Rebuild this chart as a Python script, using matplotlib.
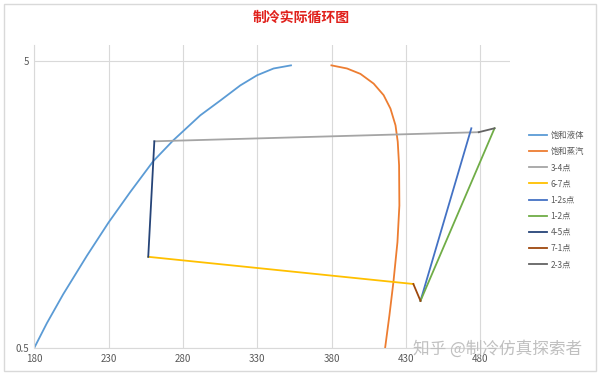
import numpy as np
import matplotlib
matplotlib.use('Agg')
from matplotlib import pyplot as plt
from matplotlib.patches import Rectangle

plt.rcParams['font.family'] = ['Noto Sans CJK SC', 'DejaVu Sans']

# 饱和液体 / 饱和蒸汽 (h, p)
liq_h = [180, 188.5, 199.5, 215.5, 230, 244.6, 260, 273.5, 291.7, 305.2, 318.6, 329.9, 341, 352.7]
liq_p = [0.5, 0.61, 0.77, 1.05, 1.37, 1.75, 2.24, 2.65, 3.24, 3.65, 4.12, 4.47, 4.72, 4.84]
vap_h = [379.9, 390.4, 399.4, 408.3, 415, 419.6, 423, 424.5, 425.4, 425.6, 424.3, 421.6, 418.9, 416, 415]
vap_p = [4.84, 4.72, 4.52, 4.18, 3.81, 3.42, 2.99, 2.62, 2.17, 1.57, 1.17, 0.85, 0.65, 0.5, 0.47]

# 循环状态点
h1, p1 = 439.8, 0.73
h2, p2 = 489.6, 2.92
h2s, p2s = 474, 2.92
h3, p3 = 479, 2.83
h4, p4 = 260.8, 2.63
h5, p5 = 256.7, 1.04
h7, p7 = 435, 0.836

series = [
    ('饱和液体', liq_h, liq_p, '#5B9BD5'),
    ('饱和蒸汽', vap_h, vap_p, '#ED7D31'),
    ('3-4点', [h3, h4], [p3, p4], '#A5A5A5'),
    ('6-7点', [h5, h7], [p5, p7], '#FFC000'),
    ('1-2s点', [h1, h2s], [p1, p2s], '#4472C4'),
    ('1-2点', [h1, h2], [p1, p2], '#70AD47'),
    ('4-5点', [h4, h5], [p4, p5], '#264478'),
    ('7-1点', [h7, h1], [p7, p1], '#9E480E'),
    ('2-3点', [h2, h3], [p2, p3], '#636363'),
]

fig = plt.figure(figsize=(6, 3.75), dpi=100)
ax = fig.add_axes([0.057, 0.072, 0.793, 0.808])

for name, hs, ps, c in series:
    ax.plot(hs, ps, color=c, lw=1.3, label=name)

ax.set_yscale('log')
ax.set_xlim(180, 500)
ax.set_ylim(0.5, 5.7)
ax.set_xticks(np.arange(180, 500, 50))
ax.set_yticks([0.5, 5])
ax.set_yticklabels(['0.5', '5'])
ax.yaxis.set_minor_locator(plt.NullLocator())
ax.tick_params(length=0, labelsize=7, colors='#595959', pad=4)
ax.grid(color='#D9D9D9', lw=0.8)
for s in ['top', 'right']:
    ax.spines[s].set_visible(False)
for s in ['left', 'bottom']:
    ax.spines[s].set_color('#D9D9D9')

fig.text(0.502, 0.952, '制冷实际循环图', color='#E0201B', fontsize=10,
         fontweight='bold', ha='center', va='center')

ax.legend(loc='upper left', bbox_to_anchor=(0.876, 0.66),
          bbox_transform=fig.transFigure, frameon=False, fontsize=6,
          labelcolor='#595959', handlelength=2.2, labelspacing=0.86,
          handletextpad=0.4, borderaxespad=0)

fig.text(0.83, 0.07, '知乎 @制冷仿真探索者', color='#C0C0C0', fontsize=12,
         ha='center', va='center')

fig.patches.append(Rectangle((0.006, 0.01), 0.988, 0.98, transform=fig.transFigure,
                             fill=False, edgecolor='#D9D9D9', lw=1))

fig.savefig('out.png', dpi=100)
